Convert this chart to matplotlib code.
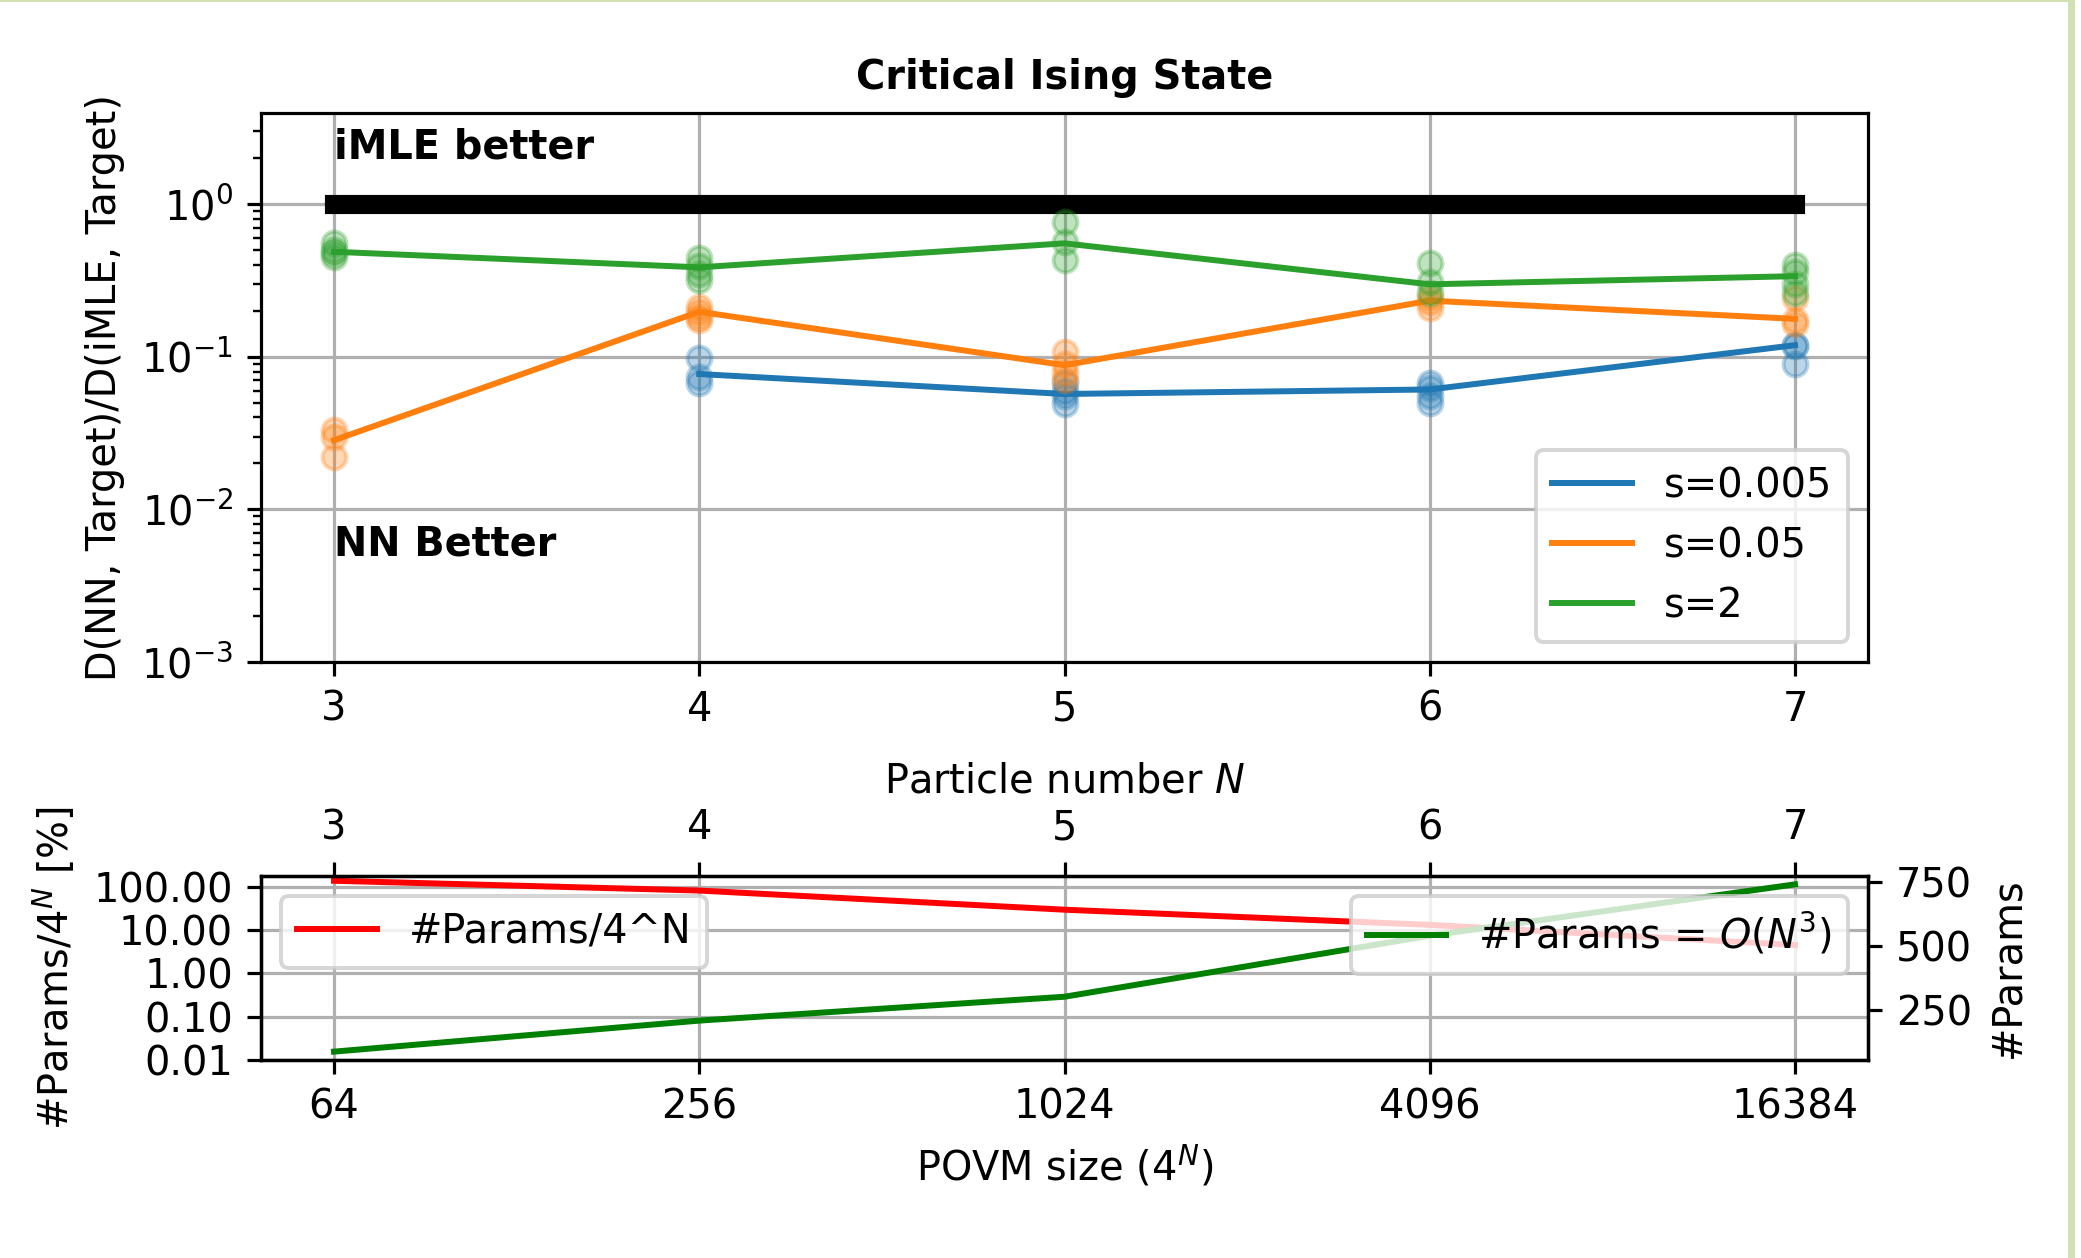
import numpy as np
import matplotlib
matplotlib.use("Agg")
import matplotlib.pyplot as plt
from matplotlib.ticker import FormatStrFormatter, NullLocator
from matplotlib.patches import Rectangle

# ---------------- data ----------------
N = [3, 4, 5, 6, 7]
povm_labels = ["64", "256", "1024", "4096", "16384"]
series_labels = ["s=0.005", "s=0.05", "s=2"]

# mean curves (ratio D(NN)/D(iMLE))
mean_s005 = [np.nan, 0.077, 0.057, 0.061, 0.119]
mean_s05 = [0.0284, 0.197, 0.088, 0.233, 0.177]
mean_s2 = [0.487, 0.385, 0.553, 0.298, 0.337]

# individual runs (x, y)
runs_s005_x = [4, 4, 4, 5, 5, 5, 5, 6, 6, 6, 6, 7, 7, 7]
runs_s005_y = [0.0975, 0.074, 0.067, 0.067, 0.055, 0.049, 0.060,
               0.067, 0.062, 0.055, 0.050, 0.120, 0.118, 0.090]
runs_s05_x = [3, 3, 3, 4, 4, 4, 4, 5, 5, 5, 5, 6, 6, 6, 7, 7, 7]
runs_s05_y = [0.033, 0.0296, 0.022, 0.212, 0.197, 0.183, 0.174,
              0.108, 0.090, 0.078, 0.070, 0.247, 0.229, 0.207,
              0.242, 0.174, 0.165]
runs_s2_x = [3, 3, 3, 3, 4, 4, 4, 4, 5, 5, 5, 6, 6, 6, 7, 7, 7, 7]
runs_s2_y = [0.553, 0.500, 0.475, 0.452, 0.440, 0.390, 0.350, 0.320,
             0.766, 0.566, 0.430, 0.408, 0.310, 0.260, 0.400, 0.360,
             0.300, 0.260]

# number of network parameters
n_params = [88, 209, 302, 540, 740]

# ---------------- figure ----------------
DPI = 287
fig = plt.figure(figsize=(2081 / DPI, 1258 / DPI), dpi=DPI)
W, H = 2081, 1258

ax1 = fig.add_axes([261 / W, 1 - 662 / H, (1868 - 261) / W, (662 - 113) / H])
ax2 = fig.add_axes([261 / W, 1 - 1060 / H, (1868 - 261) / W, (1060 - 876) / H])

colors = ["C0", "C1", "C2"]
means = [mean_s005, mean_s05, mean_s2]
runs = [(runs_s005_x, runs_s005_y), (runs_s05_x, runs_s05_y), (runs_s2_x, runs_s2_y)]

ax1.plot([N[0], N[-1]], [1, 1], "k-", lw=4.8)
for c, m, (rx, ry), lab in zip(colors, means, runs, series_labels):
    ax1.plot(N, m, "-", color=c, label=lab)
    ax1.plot(rx, ry, "o", color=c, alpha=0.3)

ax1.set_yscale("log")
ax1.set_ylim(1e-3, 3.95)
ax1.set_xticks(N)
ax1.grid(True)
ax1.set_ylabel("D(NN, Target)/D(iMLE, Target)")
ax1.set_title("Critical Ising State", fontweight="bold", fontsize=10)
ax1.text(3, 2.0, "iMLE better", fontweight="bold")
ax1.text(3, 0.005, "NN Better", fontweight="bold")
ax1.legend(loc="lower right")

# bottom panel
ratio = [p / 4 ** n * 100 for p, n in zip(n_params, N)]
ax2.plot(N, ratio, color="red", label="#Params/4^N")
ax2.set_yscale("log")
ax2.set_ylim(0.01, 177)
ax2.set_yticks([0.01, 0.1, 1, 10, 100])
ax2.yaxis.set_major_formatter(FormatStrFormatter("%.2f"))
ax2.yaxis.set_minor_locator(NullLocator())
ax2.set_xticks(N)
ax2.set_xticklabels(povm_labels)
ax2.set_xlabel("POVM size ($4^N$)")
ax2.set_ylabel("#Params/4$^N$ [%]")
ax2.grid(True)
ax2.legend(loc="upper left")

ax3 = ax2.twinx()
ax3.plot(N, n_params, color="green", label="#Params = $O(N^3)$")
ax3.set_yticks([250, 500, 750])
ax3.set_ylabel("#Params")
ax3.legend(loc="upper right")

ax4 = ax2.twiny()
ax4.set_xlim(ax2.get_xlim())
ax4.set_xticks(N)
ax4.set_xlabel("Particle number $N$")

# screenshot border
fig.patches.append(Rectangle((2068 / W, 0), 7 / W, 1, transform=fig.transFigure,
                             facecolor="#d0e2b4", edgecolor="none"))
fig.patches.append(Rectangle((0, 1 - 2 / H), 2075 / W, 2 / H, transform=fig.transFigure,
                             facecolor="#d0e2b4", edgecolor="none"))

fig.savefig("out.png", dpi=DPI)
